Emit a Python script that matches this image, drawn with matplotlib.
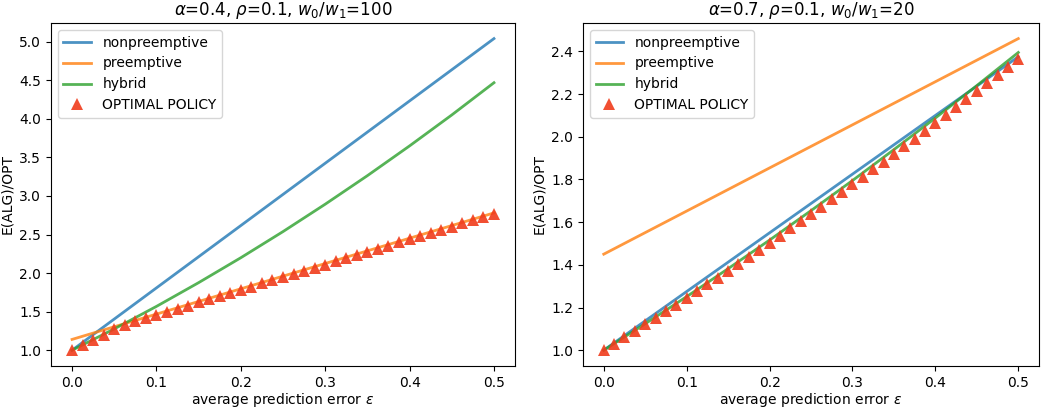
import numpy as np
import matplotlib
matplotlib.use('Agg')
import matplotlib.pyplot as plt

# x grid for the algorithm curves and for the optimal-policy markers
eps_line = [0.0, 0.05, 0.1, 0.15, 0.2, 0.25, 0.3, 0.35, 0.4, 0.45, 0.5]
eps_opt = [i * 0.0125 for i in range(41)]

# left panel: alpha=0.4, rho=0.1, w0/w1=100
left_nonpre = [1.0, 1.404, 1.808, 2.212, 2.616, 3.02, 3.424, 3.828, 4.232, 4.636, 5.04]
left_pre = [1.14, 1.304, 1.468, 1.632, 1.796, 1.96, 2.124, 2.288, 2.452, 2.616, 2.78]
left_hybrid = [1.0, 1.276, 1.568, 1.876, 2.199, 2.538, 2.893, 3.263, 3.649, 4.05, 4.468]
left_opt = [1.00, 1.07, 1.135, 1.20, 1.27, 1.33, 1.375, 1.415, 1.455, 1.496, 1.537,
            1.578, 1.619, 1.66, 1.701, 1.742, 1.783, 1.824, 1.865, 1.906, 1.947,
            1.988, 2.029, 2.07, 2.111, 2.152, 2.193, 2.234, 2.275, 2.316, 2.357,
            2.398, 2.439, 2.48, 2.521, 2.562, 2.603, 2.644, 2.685, 2.726, 2.767]

# right panel: alpha=0.7, rho=0.1, w0/w1=20
right_nonpre = [1.0, 1.1375, 1.275, 1.4125, 1.55, 1.6875, 1.825, 1.9625, 2.1, 2.2375, 2.375]
right_pre = [1.45, 1.551, 1.652, 1.753, 1.854, 1.955, 2.056, 2.157, 2.258, 2.359, 2.46]
right_hybrid = [1.0, 1.124, 1.251, 1.382, 1.516, 1.654, 1.795, 1.94, 2.088, 2.24, 2.395]
right_opt = [1.000, 1.030, 1.060, 1.090, 1.121, 1.151, 1.182, 1.214, 1.245, 1.277, 1.308,
             1.340, 1.373, 1.405, 1.438, 1.471, 1.504, 1.537, 1.571, 1.605, 1.639,
             1.673, 1.707, 1.742, 1.777, 1.812, 1.847, 1.883, 1.919, 1.955, 1.991,
             2.027, 2.064, 2.101, 2.138, 2.175, 2.213, 2.250, 2.288, 2.327, 2.365]

panels = [
    (r'$\alpha$=0.4, $\rho$=0.1, $w_0/w_1$=100', left_nonpre, left_pre, left_hybrid, left_opt),
    (r'$\alpha$=0.7, $\rho$=0.1, $w_0/w_1$=20', right_nonpre, right_pre, right_hybrid, right_opt),
]

fig = plt.figure(figsize=(10.49, 4.11), dpi=100)
ax_left = fig.add_axes([0.0486, 0.11, 0.4424, 0.834])
ax_right = fig.add_axes([0.5558, 0.11, 0.4347, 0.834])

for ax, (title, nonpre, pre, hybrid, opt) in zip([ax_left, ax_right], panels):
    ax.plot(eps_line, nonpre, color='tab:blue', alpha=0.8, lw=2, label='nonpreemptive')
    ax.plot(eps_line, pre, color='tab:orange', alpha=0.8, lw=2, label='preemptive')
    ax.plot(eps_line, hybrid, color='tab:green', alpha=0.8, lw=2, label='hybrid')
    ax.plot(eps_opt, opt, '^', color='#f03c1c', alpha=0.9, markersize=8,
            markeredgewidth=0, label='OPTIMAL POLICY')
    ax.set_title(title, fontsize=12)
    ax.set_xlabel(r'average prediction error $\epsilon$', fontsize=10, labelpad=1)
    ax.set_ylabel('E(ALG)/OPT', fontsize=10)
    ax.set_xticks([0.0, 0.1, 0.2, 0.3, 0.4, 0.5])
    ax.legend(loc='upper left', fontsize=10)

ax_right.set_yticks([1.0, 1.2, 1.4, 1.6, 1.8, 2.0, 2.2, 2.4])

fig.savefig('out.png', dpi=100)
